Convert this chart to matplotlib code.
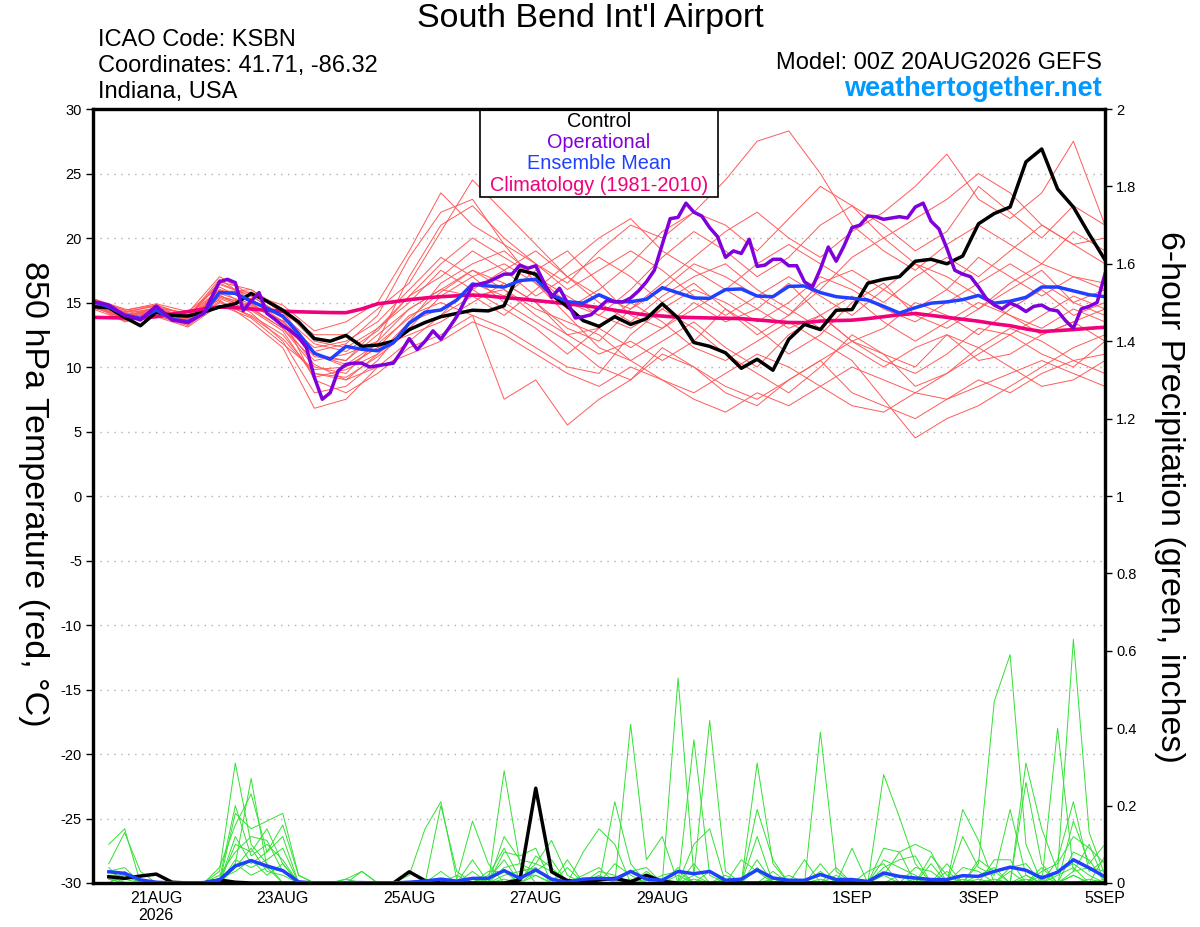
import numpy as np
import matplotlib
matplotlib.use('Agg')
import matplotlib.pyplot as plt
from matplotlib.patches import Rectangle

plt.rcParams['font.family'] = ['Liberation Sans', 'DejaVu Sans']
plt.rcParams['axes.unicode_minus'] = False

# ---------------- data ----------------
hours6 = np.arange(0, 385, 6)      # 65 points, 6-hourly
hours3 = np.arange(0, 385, 3)      # 129 points, 3-hourly (operational)
hours12 = np.arange(0, 385, 12)    # 33 points, 12-hourly (members)
hours_p = np.arange(6, 385, 6)     # 64 precip periods

tick_hours = [24, 72, 120, 168, 216, 288, 336, 384]
tick_labels = ["21AUG\n2026", "23AUG", "25AUG", "27AUG", "29AUG", "1SEP", "3SEP", "5SEP"]

control_t = [14.67, 14.6, 13.85, 13.2, 14.25, 14.0, 13.95, 14.25, 14.65, 14.9,
             15.7, 15.1, 14.4, 13.5, 12.2, 12.0, 12.45, 11.6, 11.7, 12.0,
             12.9, 13.45, 13.9, 14.15, 14.4, 14.35, 14.75, 17.5, 17.2, 15.6,
             14.7, 13.6, 13.15, 13.9, 13.3, 13.75, 14.9, 13.8, 11.9, 11.6,
             11.1, 9.9, 10.6, 9.75, 12.15, 13.3, 12.9, 14.4, 14.45, 16.5,
             16.8, 17.0, 18.2, 18.35, 18.0, 18.6, 21.1, 21.9, 22.4, 25.9,
             26.9, 23.8, 22.4, 20.3, 18.3]

operational_t = [15.06, 14.95, 14.8, 14.4, 14.0, 13.85, 13.64, 14.2, 14.73, 14.2,
                 13.64, 13.55, 13.44, 13.8, 14.16, 15.4, 16.6, 16.8, 16.54, 14.37,
                 15.1, 15.77, 14.16, 13.7, 13.2, 12.8, 12.3, 11.5, 9.2, 7.5,
                 8.0, 9.7, 10.2, 10.3, 10.3, 10.0, 10.1, 10.2, 10.3, 11.2,
                 12.2, 11.35, 12.0, 12.8, 12.15, 13.0, 13.9, 15.1, 16.3, 16.45,
                 16.6, 16.9, 17.2, 17.2, 17.9, 17.65, 17.85, 16.6, 15.4, 16.1,
                 15.0, 13.8, 13.9, 14.05, 14.6, 15.15, 15.06, 15.04, 15.35, 15.9,
                 16.6, 17.5, 19.5, 21.5, 21.6, 22.7, 22.0, 21.7, 20.8, 20.1,
                 18.5, 19.0, 18.8, 19.9, 17.8, 17.9, 18.35, 18.35, 17.85, 17.85,
                 16.6, 16.2, 17.6, 19.3, 18.2, 19.4, 20.8, 21.0, 21.7, 21.65,
                 21.45, 21.55, 21.65, 21.55, 22.4, 22.7, 21.3, 20.7, 19.2, 17.5,
                 17.2, 17.0, 16.2, 15.3, 14.8, 14.5, 14.95, 14.7, 14.3, 14.7,
                 14.8, 14.45, 14.35, 13.6, 13.0, 14.5, 14.7, 15.0, 17.2]

ens_mean_t = [15.06, 14.67, 14.03, 13.77, 14.42, 13.7, 13.52, 14.16, 15.77, 15.71,
              15.1, 14.55, 13.95, 12.6, 11.06, 10.6, 11.6, 11.37, 11.26, 11.88,
              13.4, 14.25, 14.42, 15.19, 16.43, 16.28, 16.2, 16.7, 16.8, 15.6,
              15.06, 14.95, 15.6, 15.06, 15.06, 15.25, 16.15, 15.75, 15.35, 15.32,
              16.0, 16.05, 15.5, 15.45, 16.25, 16.28, 15.77, 15.45, 15.33, 15.19,
              14.7, 14.18, 14.6, 14.95, 15.05, 15.22, 15.55, 14.95, 15.1, 15.4,
              16.2, 16.2, 15.9, 15.6, 15.45]

climatology_t = [13.85, 13.82, 13.8, 13.77, 13.9, 14.1, 14.3, 14.5, 14.65, 14.6,
                 14.5, 14.4, 14.33, 14.28, 14.25, 14.22, 14.21, 14.5, 14.9, 15.05,
                 15.22, 15.35, 15.45, 15.52, 15.58, 15.5, 15.38, 15.28, 15.15, 15.03,
                 14.9, 14.77, 14.6, 14.4, 14.2, 14.03, 13.95, 13.86, 13.83, 13.8,
                 13.78, 13.75, 13.65, 13.55, 13.45, 13.44, 13.56, 13.6, 13.63, 13.75,
                 13.9, 14.05, 14.15, 14.0, 13.85, 13.7, 13.55, 13.35, 13.2, 12.95,
                 12.75, 12.82, 12.9, 13.0, 13.08]

m01 = [15.2, 14.0, 14.5, 13.8, 16.5, 15.5, 14.0, 11.0, 10.5, 12.5, 14.5, 16.0, 17.5, 16.5, 15.0, 13.0, 12.0, 14.5, 16.0, 18.0, 17.0, 15.5, 14.0, 16.5, 17.5, 16.0, 14.5, 16.0, 18.5, 17.0, 15.5, 17.0, 16.5]
m02 = [14.8, 13.5, 14.0, 13.2, 15.0, 14.0, 12.5, 9.5, 9.0, 11.0, 13.0, 15.5, 17.0, 18.0, 16.5, 14.0, 11.5, 10.5, 12.0, 13.5, 11.5, 10.0, 12.5, 14.0, 12.0, 10.5, 9.5, 11.0, 13.0, 12.5, 11.0, 10.0, 12.0]
m03 = [15.0, 14.2, 14.8, 14.0, 16.0, 14.5, 13.0, 10.0, 9.5, 12.0, 17.0, 21.0, 22.5, 20.0, 18.0, 16.5, 19.0, 21.0, 20.0, 22.0, 24.5, 27.5, 28.3, 25.0, 21.0, 19.0, 17.5, 19.5, 21.0, 19.5, 18.0, 20.5, 19.0]
m04 = [14.6, 13.8, 14.2, 13.5, 15.5, 14.8, 13.5, 11.5, 12.0, 13.5, 16.0, 18.5, 17.0, 15.0, 13.5, 12.0, 10.0, 9.0, 11.0, 10.0, 8.5, 7.5, 9.0, 10.5, 8.0, 7.0, 6.0, 7.5, 9.0, 8.0, 9.5, 10.5, 11.0]
m05 = [15.3, 14.5, 14.0, 13.6, 15.8, 16.0, 14.5, 12.0, 11.5, 13.0, 15.5, 17.0, 19.0, 17.5, 15.5, 17.0, 18.5, 17.0, 15.0, 16.5, 14.5, 12.5, 14.0, 16.0, 18.5, 20.0, 18.0, 16.0, 14.5, 16.0, 17.5, 15.0, 14.0]
m06 = [14.9, 13.7, 14.4, 13.9, 16.8, 15.2, 13.8, 9.0, 8.0, 9.5, 11.5, 12.5, 14.0, 13.0, 11.5, 10.0, 9.5, 12.5, 14.5, 13.0, 11.0, 9.5, 8.0, 10.0, 12.5, 11.0, 10.0, 12.5, 11.5, 10.0, 8.5, 9.0, 10.5]
m07 = [15.1, 14.1, 14.6, 14.1, 15.2, 13.5, 11.5, 6.8, 7.5, 10.0, 12.0, 14.0, 16.5, 15.5, 17.5, 19.0, 16.5, 14.0, 13.0, 15.0, 13.5, 14.5, 16.5, 14.0, 12.0, 13.0, 15.0, 14.0, 12.5, 14.5, 16.0, 14.0, 15.0]
m08 = [14.7, 13.9, 14.1, 13.4, 15.6, 14.2, 12.0, 8.0, 8.5, 10.5, 13.5, 16.5, 18.0, 19.0, 17.0, 15.5, 14.0, 16.0, 18.5, 20.5, 19.0, 17.0, 18.5, 21.0, 22.5, 21.0, 19.0, 20.5, 24.0, 22.0, 20.0, 22.5, 21.0]
m09 = [15.0, 14.3, 14.7, 13.7, 15.9, 15.8, 14.2, 12.5, 12.5, 14.5, 16.5, 20.5, 24.5, 22.0, 19.5, 17.0, 15.0, 13.5, 15.5, 17.0, 18.0, 16.0, 14.5, 13.0, 11.5, 10.0, 11.5, 12.5, 10.5, 11.0, 12.5, 13.5, 12.0]
m10 = [14.5, 13.6, 13.9, 13.1, 14.8, 13.8, 11.8, 9.8, 10.0, 11.5, 12.5, 13.5, 15.0, 16.5, 15.0, 12.5, 11.0, 12.0, 10.5, 12.0, 14.5, 13.0, 11.0, 12.5, 15.0, 16.5, 14.0, 13.0, 14.5, 16.5, 18.0, 17.0, 16.0]
m11 = [15.2, 14.4, 14.9, 14.3, 16.2, 15.0, 13.2, 11.0, 10.0, 11.5, 14.0, 15.0, 14.0, 7.5, 9.0, 5.5, 7.5, 9.0, 11.5, 10.0, 8.0, 7.0, 9.0, 10.5, 12.0, 11.0, 8.5, 9.5, 11.5, 13.0, 12.0, 10.5, 9.5]
m12 = [14.8, 14.0, 14.3, 13.6, 15.4, 14.6, 13.0, 10.5, 11.0, 12.0, 14.5, 16.0, 15.5, 14.0, 16.0, 18.0, 20.0, 21.5, 19.0, 17.5, 16.0, 18.0, 19.5, 18.0, 16.5, 15.0, 17.0, 18.5, 17.0, 19.0, 21.0, 19.5, 18.0]
m13 = [14.9, 13.8, 14.5, 13.8, 16.0, 15.3, 13.5, 10.8, 10.5, 13.0, 15.0, 17.5, 16.0, 14.5, 13.0, 11.0, 13.0, 15.0, 13.5, 11.5, 10.5, 12.0, 13.5, 12.0, 10.5, 7.5, 4.5, 6.0, 7.0, 8.5, 10.0, 11.5, 12.5]
m14 = [15.1, 14.2, 14.0, 13.3, 15.3, 14.4, 12.8, 9.2, 9.8, 11.0, 13.5, 14.5, 16.0, 17.5, 19.0, 17.0, 15.5, 14.5, 16.5, 18.5, 20.5, 22.0, 20.0, 18.5, 20.5, 22.0, 24.0, 26.5, 23.0, 21.5, 23.5, 27.5, 21.0]
m15 = [14.6, 13.9, 14.6, 14.2, 17.0, 15.6, 14.8, 12.8, 13.5, 15.0, 19.0, 23.5, 21.0, 19.5, 18.0, 16.0, 17.5, 19.0, 17.5, 15.5, 14.0, 15.5, 17.0, 15.5, 14.0, 16.0, 18.0, 17.0, 15.5, 14.0, 13.0, 14.5, 13.5]
m16 = [15.0, 14.1, 14.2, 13.5, 15.1, 13.9, 12.2, 9.5, 9.2, 10.8, 12.8, 14.0, 15.5, 16.0, 14.5, 13.5, 12.5, 10.5, 9.0, 8.0, 9.5, 11.0, 10.0, 8.5, 7.0, 6.5, 8.0, 9.5, 11.0, 12.5, 14.0, 15.5, 14.5]
m17 = [15.3, 14.4, 14.8, 14.0, 16.4, 15.5, 14.0, 11.8, 11.2, 12.8, 15.5, 18.0, 20.0, 18.5, 17.0, 15.0, 14.0, 13.0, 14.5, 16.0, 15.0, 13.5, 15.0, 17.0, 16.0, 14.5, 13.5, 15.0, 16.5, 18.0, 16.5, 15.0, 16.0]
m18 = [14.7, 13.7, 14.3, 13.7, 15.7, 14.9, 13.3, 10.2, 9.0, 10.0, 11.0, 12.0, 13.5, 12.5, 11.0, 9.5, 8.5, 10.0, 9.0, 7.5, 6.5, 8.0, 7.0, 8.5, 10.0, 9.0, 8.0, 7.5, 8.5, 9.5, 10.5, 9.5, 8.5]
m19 = [15.0, 14.0, 14.5, 13.9, 16.6, 16.0, 14.3, 11.2, 11.8, 14.0, 18.5, 22.0, 23.0, 19.5, 16.5, 14.5, 16.0, 18.0, 20.5, 22.0, 21.0, 19.0, 21.5, 24.0, 22.5, 20.0, 21.5, 23.0, 25.0, 23.5, 21.0, 19.5, 20.0]
m20 = [14.8, 14.3, 14.4, 13.6, 15.5, 14.7, 13.6, 11.0, 10.2, 11.8, 13.8, 15.8, 17.5, 16.0, 14.0, 12.5, 13.0, 11.5, 13.0, 14.5, 16.0, 14.5, 13.0, 14.0, 15.5, 13.5, 12.0, 13.5, 15.0, 14.0, 12.5, 13.5, 14.5]
members_t = [m01, m02, m03, m04, m05, m06, m07, m08, m09, m10,
             m11, m12, m13, m14, m15, m16, m17, m18, m19, m20]

# 6-hour precipitation (inches), periods ending at hours_p
control_p = [0.016, 0.012, 0.018, 0.023, 0.002, 0, 0, 0.008, 0.002, 0,
             0, 0, 0, 0, 0, 0, 0, 0, 0, 0.029,
             0.006, 0, 0, 0, 0, 0, 0.008, 0.245, 0.029, 0.006,
             0.002, 0.008, 0.012, 0.003, 0.02, 0.004, 0, 0, 0, 0,
             0, 0, 0, 0, 0, 0, 0, 0, 0, 0,
             0, 0, 0, 0, 0, 0, 0, 0, 0, 0,
             0, 0, 0, 0]
ens_mean_p = [0.029, 0.025, 0.008, 0.002, 0.0, 0.0, 0.001, 0.008, 0.044, 0.058,
              0.044, 0.032, 0.003, 0.0, 0.0, 0.001, 0.001, 0.0, 0.0, 0.002,
              0.005, 0.01, 0.005, 0.012, 0.012, 0.032, 0.012, 0.034, 0.01, 0.002,
              0.01, 0.012, 0.01, 0.03, 0.01, 0.007, 0.03, 0.024, 0.03, 0.007,
              0.01, 0.034, 0.013, 0.007, 0.007, 0.022, 0.009, 0.009, 0.004, 0.026,
              0.017, 0.013, 0.009, 0.009, 0.019, 0.017, 0.03, 0.041, 0.033, 0.013,
              0.028, 0.06, 0.039, 0.016]

# member precipitation: {period index (1..64): inches}, other periods are 0
g01 = {1: 0.10, 2: 0.14, 9: 0.05, 10: 0.27, 11: 0.04, 22: 0.20, 23: 0.03, 33: 0.21, 34: 0.05, 37: 0.53, 38: 0.02, 39: 0.42, 40: 0.03, 56: 0.05, 57: 0.47, 58: 0.59, 59: 0.10, 62: 0.02}
g02 = {1: 0.05, 2: 0.13, 3: 0.03, 8: 0.03, 9: 0.31, 10: 0.10, 11: 0.05, 26: 0.29, 27: 0.05, 34: 0.41, 35: 0.06, 36: 0.12, 38: 0.37, 39: 0.02, 46: 0.39, 47: 0.03, 61: 0.40, 62: 0.03, 63: 0.10}
g03 = {1: 0.03, 2: 0.04, 9: 0.18, 10: 0.14, 11: 0.16, 12: 0.18, 13: 0.02, 20: 0.02, 21: 0.14, 22: 0.21, 23: 0.01, 24: 0.16, 25: 0.05, 31: 0.08, 32: 0.14, 33: 0.10, 42: 0.31, 43: 0.05, 50: 0.28, 51: 0.17, 52: 0.05, 59: 0.31, 60: 0.14, 61: 0.03, 62: 0.63, 63: 0.13, 64: 0.02}
g04 = {1: 0.04, 8: 0.04, 9: 0.15, 10: 0.23, 11: 0.08, 12: 0.12, 17: 0.03, 24: 0.03, 26: 0.08, 27: 0.07, 28: 0.09, 30: 0.06, 35: 0.03, 38: 0.10, 39: 0.14, 42: 0.12, 44: 0.02, 50: 0.02, 51: 0.08, 52: 0.10, 53: 0.08, 55: 0.19, 56: 0.11, 59: 0.26, 60: 0.05, 62: 0.16, 63: 0.05, 64: 0.10}
g05 = {2: 0.03, 9: 0.10, 10: 0.08, 11: 0.14, 12: 0.05, 22: 0.03, 25: 0.02, 26: 0.09, 27: 0.01, 28: 0.05, 29: 0.11, 30: 0.02, 36: 0.02, 37: 0.03, 42: 0.19, 43: 0.06, 48: 0.09, 50: 0.09, 51: 0.08, 53: 0.05, 55: 0.12, 56: 0.04, 57: 0.02, 58: 0.19, 59: 0.02, 61: 0.06, 62: 0.21, 63: 0.03, 64: 0.06}
g06 = {1: 0.02, 9: 0.12, 10: 0.05, 11: 0.08, 12: 0.15, 13: 0.02, 16: 0.01, 17: 0.03, 25: 0.03, 26: 0.03, 28: 0.07, 29: 0.04, 31: 0.02, 32: 0.04, 38: 0.05, 41: 0.06, 42: 0.03, 45: 0.06, 47: 0.02, 49: 0.03, 50: 0.05, 53: 0.07, 54: 0.02, 56: 0.06, 57: 0.03, 60: 0.03, 61: 0.05, 62: 0.12, 63: 0.09, 64: 0.05}
g07 = {1: 0.03, 2: 0.01, 8: 0.01, 9: 0.20, 10: 0.07, 11: 0.10, 12: 0.06, 22: 0.01, 24: 0.06, 26: 0.12, 27: 0.06, 28: 0.05, 29: 0.03, 33: 0.05, 34: 0.02, 37: 0.04, 39: 0.03, 42: 0.04, 46: 0.03, 50: 0.04, 51: 0.06, 52: 0.07, 54: 0.05, 57: 0.06, 58: 0.06, 60: 0.02, 62: 0.08, 63: 0.06}
g08 = {2: 0.02, 8: 0.02, 9: 0.08, 10: 0.12, 11: 0.11, 12: 0.03, 23: 0.02, 26: 0.04, 27: 0.05, 28: 0.03, 29: 0.06, 32: 0.02, 34: 0.03, 35: 0.04, 38: 0.02, 40: 0.02, 43: 0.03, 46: 0.05, 48: 0.01, 50: 0.06, 51: 0.04, 52: 0.02, 55: 0.04, 56: 0.03, 58: 0.04, 59: 0.05, 61: 0.02, 62: 0.04, 64: 0.07}
g09 = {1: 0.01, 9: 0.06, 10: 0.04, 11: 0.06, 12: 0.09, 16: 0.01, 25: 0.01, 26: 0.06, 28: 0.02, 30: 0.04, 37: 0.02, 42: 0.06, 44: 0.01, 47: 0.04, 52: 0.04, 53: 0.03, 56: 0.02, 57: 0.04, 59: 0.02, 61: 0.03, 62: 0.05, 63: 0.02}
g10 = {1: 0.02, 2: 0.02, 9: 0.04, 10: 0.09, 11: 0.03, 12: 0.02, 26: 0.02, 27: 0.03, 28: 0.04, 32: 0.03, 33: 0.02, 36: 0.01, 40: 0.01, 46: 0.01, 50: 0.02, 54: 0.03, 58: 0.03, 60: 0.04, 62: 0.03, 63: 0.04, 64: 0.03}
g11 = {8: 0.01, 9: 0.03, 10: 0.06, 11: 0.02, 12: 0.05, 26: 0.01, 28: 0.03, 29: 0.01, 34: 0.01, 38: 0.01, 51: 0.02, 55: 0.01, 57: 0.01, 62: 0.02, 64: 0.01}
g12 = {1: 0.01, 9: 0.05, 10: 0.02, 11: 0.04, 12: 0.03, 24: 0.01, 27: 0.02, 28: 0.02, 30: 0.01, 35: 0.01, 43: 0.01, 52: 0.01, 56: 0.01, 59: 0.01, 63: 0.01}
members_p = [g01, g02, g03, g04, g05, g06, g07, g08, g09, g10, g11, g12]

# ---------------- styling ----------------
c_member_t = '#ff5a5a'
c_member_p = '#33e033'
c_control = '#000000'
c_oper = '#8000dc'
c_mean = '#2040ff'
c_clim = '#f0007a'

fig = plt.figure(figsize=(12, 9.27), dpi=100)
ax = fig.add_axes([93 / 1200, 1 - 883 / 927, 1012 / 1200, 774 / 927])
ax2 = ax.twinx()

ax.set_xlim(0, 384)
ax.set_ylim(-30, 30)
ax2.set_ylim(0, 2)

for v in range(-25, 30, 5):
    ax.axhline(v, color='#b0b0b0', lw=1.0, ls=(0, (1, 4)), zorder=0)

for m in members_t:
    ax.plot(hours12, m, color=c_member_t, lw=0.7, zorder=2)
ax.plot(hours6, climatology_t, color=c_clim, lw=2.6, zorder=3, solid_capstyle='butt')
ax.plot(hours6, control_t, color=c_control, lw=2.5, zorder=4)
ax.plot(hours6, ens_mean_t, color=c_mean, lw=2.5, zorder=5)
ax.plot(hours3, operational_t, color=c_oper, lw=2.5, zorder=6)

for g in members_p:
    vals = np.zeros(len(hours_p))
    for k, v in g.items():
        vals[k - 1] = v
    ax2.plot(hours_p, vals, color=c_member_p, lw=0.7, zorder=2)
ax2.plot(hours_p, control_p, color=c_control, lw=2.5, zorder=4, clip_on=False)
ax2.plot(hours_p, ens_mean_p, color=c_mean, lw=2.5, zorder=5, clip_on=False)

# axes & ticks
ax.set_yticks(range(-30, 31, 5))
ax.set_yticklabels([str(v) for v in range(-30, 31, 5)])
ax2.set_yticks(np.arange(0, 2.01, 0.2))
ax2.set_yticklabels(['0', '0.2', '0.4', '0.6', '0.8', '1', '1.2', '1.4', '1.6', '1.8', '2'])
ax.set_xticks(tick_hours)
ax.set_xticklabels(tick_labels, linespacing=1.15)
ax.tick_params(axis='x', length=0, pad=6, labelsize=11.5)
ax.tick_params(axis='y', direction='out', length=5, width=1, labelsize=10.5, pad=3)
ax2.tick_params(axis='y', direction='out', length=5, width=1, labelsize=10.5, pad=3)
for a in (ax, ax2):
    for s in a.spines.values():
        s.set_linewidth(2.3)
        s.set_zorder(20)

# legend box
ax2.add_patch(Rectangle((387 / 1012, (883 - 197) / 774), 238 / 1012, 88 / 774,
                        transform=ax2.transAxes, facecolor='white', edgecolor='black',
                        lw=1.2, zorder=10, clip_on=False))
leg = [("Control", c_control, 121), ("Operational", c_oper, 142),
       ("Ensemble Mean", c_mean, 163), ("Climatology (1981-2010)", c_clim, 185)]
for txt, col, yp in leg:
    ax2.text(0.5, (883 - yp) / 774, txt, color=col, fontsize=14.3, ha='center', va='center',
             transform=ax2.transAxes, zorder=11)

# titles and info
fig.text(590 / 1200, 1 - 19 / 927, "South Bend Int'l Airport", fontsize=24.5, ha='center', va='center')
fig.text(98 / 1200, 1 - 40 / 927, "ICAO Code: KSBN", fontsize=17, ha='left', va='center')
fig.text(98 / 1200, 1 - 66 / 927, "Coordinates: 41.71, -86.32", fontsize=17, ha='left', va='center')
fig.text(98 / 1200, 1 - 92 / 927, "Indiana, USA", fontsize=17, ha='left', va='center')
fig.text(1102 / 1200, 1 - 63 / 927, "Model: 00Z 20AUG2026 GEFS", fontsize=17, ha='right', va='center')
fig.text(1102 / 1200, 1 - 89 / 927, "weathertogether.net", fontsize=19.5, ha='right', va='center',
         color='#0099ff', fontweight='bold')

fig.text(33 / 1200, 1 - 494 / 927, "850 hPa Temperature (red, °C)", fontsize=24.5, rotation=270,
         ha='center', va='center')
fig.text(1170 / 1200, 1 - 497 / 927, "6-hour Precipitation (green, inches)", fontsize=24.5,
         rotation=270, ha='center', va='center')

fig.savefig('out.png', dpi=100)
